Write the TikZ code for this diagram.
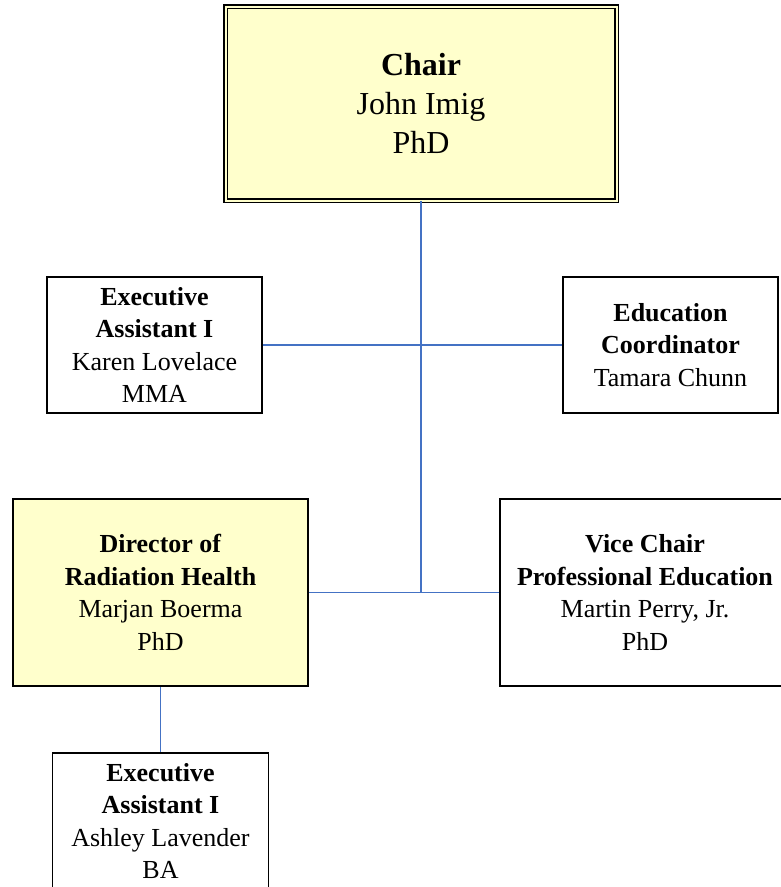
\documentclass[tikz,border=0pt]{standalone}
\usepackage{fontspec}
\setmainfont{Liberation Serif}
\usepackage{xcolor}
\usetikzlibrary{positioning}
\definecolor{boxyellow}{RGB}{255,255,204}
\definecolor{linkblue}{RGB}{68,114,196}

\begin{document}
\begin{tikzpicture}[x=1pt,y=-1pt,
		post/.style={draw=black,line width=1.8pt,inner sep=0pt,align=center,
			font=\fontsize{26}{32.5}\selectfont},
		head/.style={post,fill=boxyellow},
		link/.style={draw=linkblue,line width=1.5pt}]
		\useasboundingbox (0,0) rectangle (780,887);
		\node[head,double=boxyellow,line width=1.8pt,double distance=2pt,
			minimum width=391pt,minimum height=194pt,
			font=\fontsize{32}{39}\selectfont] (chair) at (421,103.5)
			{\textbf{Chair}\\John Imig\\PhD};
		\node[post,minimum width=215pt,minimum height=136pt] (karen) at (154.5,345)
			{\textbf{Executive}\\\textbf{Assistant I}\\Karen Lovelace\\MMA};
		\node[post,minimum width=215pt,minimum height=136pt] (edu) at (670.5,345)
			{\textbf{Education}\\\textbf{Coordinator}\\Tamara Chunn};
		\node[head,minimum width=295pt,minimum height=187pt] (dir) at (160.5,592.5)
			{\textbf{Director of}\\\textbf{Radiation Health}\\Marjan Boerma\\PhD};
		\node[post,minimum width=290pt,minimum height=187pt] (vice) at (645,592.5)
			{\textbf{Vice Chair}\\\textbf{Professional Education}\\Martin Perry, Jr.\\PhD};
		\node[post,minimum width=216pt,minimum height=136pt] (ashley) at (160.5,821)
			{\textbf{Executive}\\\textbf{Assistant I}\\Ashley Lavender\\BA};
		\coordinate (hub) at (chair.south |- vice.west);
		\draw[link] (chair.south) -- (hub);
		\draw[link] (karen.east) -- (edu.west);
		\draw[link] (dir.east) -- (vice.west);
		\draw[link] (dir.south) -- (ashley.north);
		\end{tikzpicture}
\end{document}
